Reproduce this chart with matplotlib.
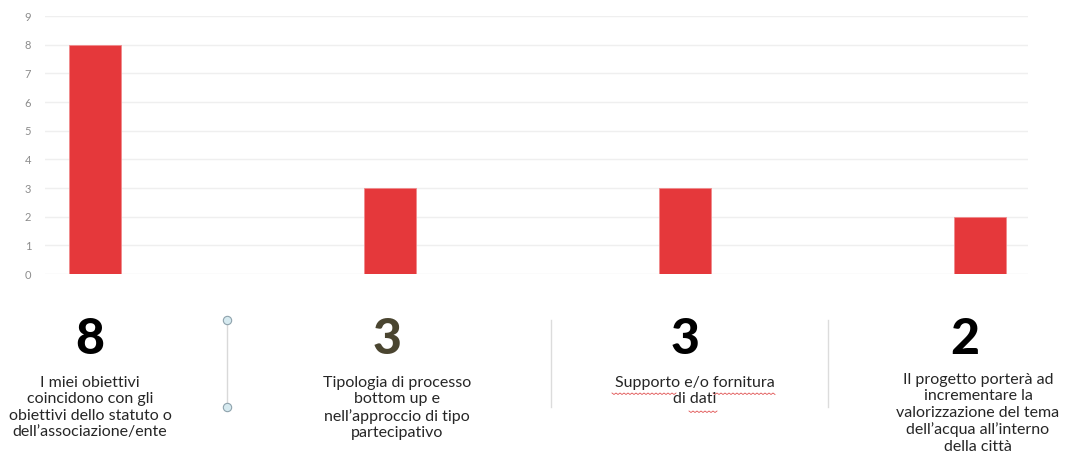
import matplotlib
matplotlib.use("Agg")
import matplotlib.pyplot as plt
import numpy as np

# data
values = [8, 3, 3, 2]
big_labels = ["8", "3", "3", "2"]
descriptions = [
    "I miei obiettivi\ncoincidono con gli\nobiettivi dello statuto o\ndell\u2019associazione/ente",
    "Tipologia di processo\nbottom up e\nnell\u2019approccio di tipo\npartecipativo",
    "Supporto e/o fornitura\ndi dati",
    "Il progetto porter\u00e0 ad\nincrementare la\nvalorizzazione del tema\ndell\u2019acqua all\u2019interno\ndella citt\u00e0",
]
yticks = list(range(0, 10))

plt.rcParams['font.family'] = ['Lato', 'DejaVu Sans']

fig = plt.figure(figsize=(10.83, 4.59), dpi=100)
ax = fig.add_axes([0.0416, 0.403, 0.9077, 0.562])

x = np.arange(len(values))
ax.bar(x, values, width=0.176, color="#e5383b", edgecolor="#f08a8c", linewidth=0.6, zorder=3)
ax.set_xlim(-0.17, 3.163)
ax.set_ylim(0, 9)
ax.set_yticks(yticks)
ax.set_yticklabels([str(t) for t in yticks], fontsize=8, color="#8c8c8c")
ax.set_xticks([])
ax.tick_params(axis="y", length=0, pad=10)
ax.grid(axis="y", color="#efefef", linewidth=1, zorder=0)
for s in ax.spines.values():
    s.set_visible(False)

# numbers and descriptions below the chart
W, H = 1083, 459
num_x = [90, 387, 685, 965]
num_col = ["black", "#4a4530", "black", "black"]
desc_x = [90, 397, 695, 978]
desc_top = [376, 376, 376, 373]
for i in range(len(values)):
    fig.text(num_x[i] / W, 1 - 340 / H, big_labels[i], fontsize=36, fontweight="black",
             color=num_col[i], ha="center", va="center")
    fig.text(desc_x[i] / W, 1 - desc_top[i] / H, descriptions[i], fontsize=11.5,
             color="#262626", ha="center", va="top", linespacing=1.22)

# separators
fig.add_artist(plt.Line2D([227 / W, 227 / W], [1 - 320 / H, 1 - 407 / H], color="#d9d9d9", lw=1))
fig.add_artist(plt.Line2D([227 / W, 227 / W], [1 - 320 / H, 1 - 407 / H], color="#8fa3ad", lw=0,
                          marker="o", markersize=6, markerfacecolor="#d6eaf0", markeredgewidth=0.8))
for sx in [551, 828]:
    fig.add_artist(plt.Line2D([sx / W, sx / W], [1 - 320 / H, 1 - 407 / H], color="#dcdcdc", lw=1))

# spell-check squiggles under "Supporto", "fornitura", "dati"
for x0, x1, yy in [(612, 676, 393), (713, 776, 393), (689, 718, 411)]:
    xs = np.arange(x0, x1 + 1, 2)
    ys = yy + np.where(np.arange(len(xs)) % 2 == 0, 0, 1.5)
    fig.add_artist(plt.Line2D(xs / W, 1 - ys / H, color="#e05050", lw=0.6))

fig.savefig("out.png", dpi=100, facecolor="white")
